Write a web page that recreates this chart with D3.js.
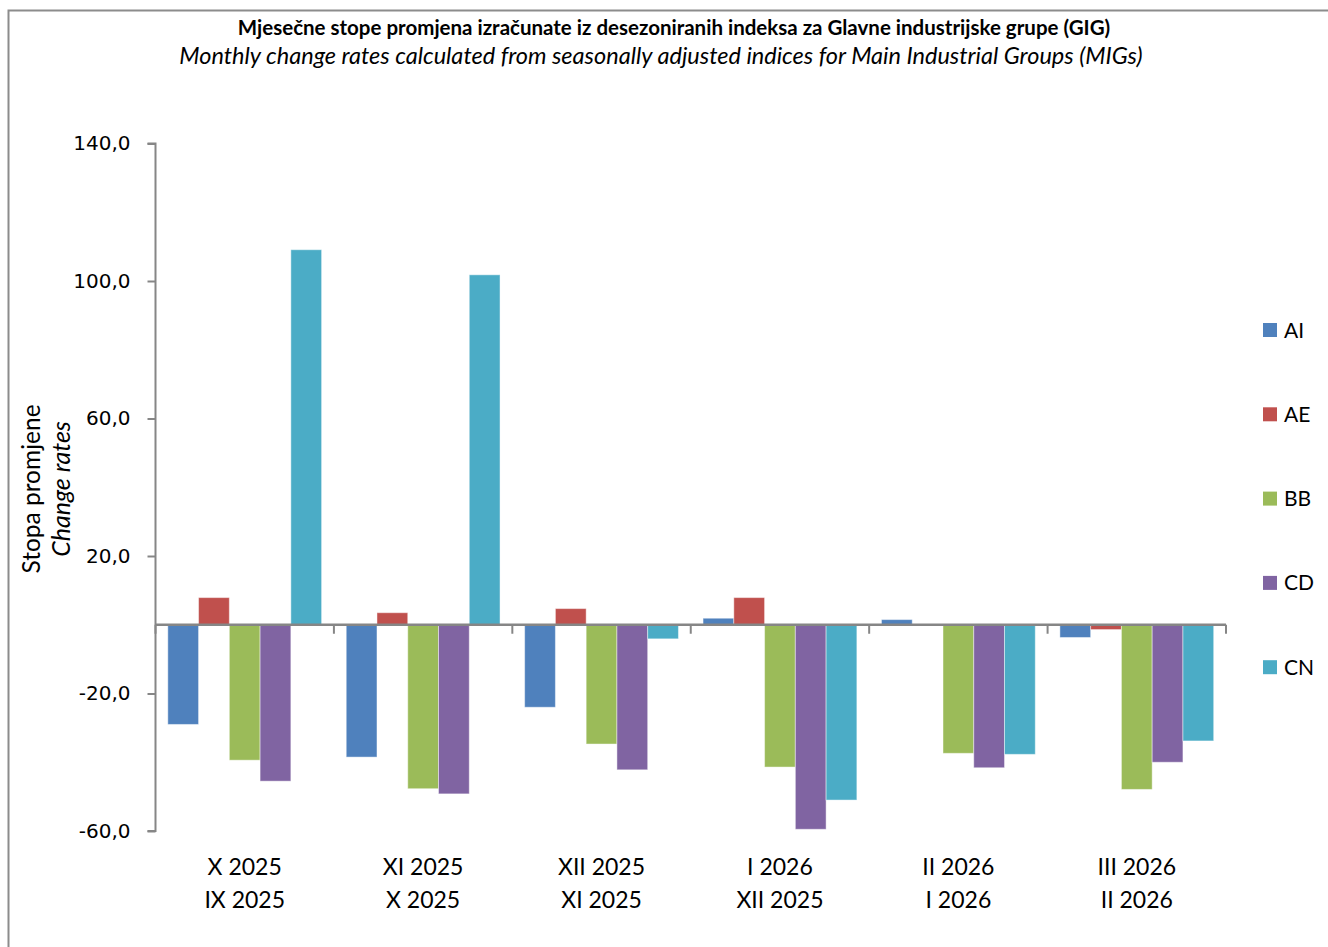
<!DOCTYPE html>
<html>
<head>
<meta charset="utf-8">
<script src="https://cdn.jsdelivr.net/npm/d3@7"></script>
<style>
  body { margin: 0; background: #fff; }
  svg { display: block; }
</style>
</head>
<body>
<div id="chart"></div>
<script>
// data
var periods = [
  ["X 2025", "IX 2025"],
  ["XI 2025", "X 2025"],
  ["XII 2025", "XI 2025"],
  ["I 2026", "XII 2025"],
  ["II 2026", "I 2026"],
  ["III 2026", "II 2026"]
];
var seriesNames = ["AI", "AE", "BB", "CD", "CN"];
var AI = [-29.0, -38.5, -24.0, 1.9, 1.5, -3.7];
var AE = [7.9, 3.5, 4.7, 7.9, 0.0, -1.4];
var BB = [-39.4, -47.7, -34.7, -41.4, -37.4, -47.9];
var CD = [-45.5, -49.2, -42.2, -59.5, -41.6, -40.0];
var CN = [109.1, 101.8, -4.1, -51.0, -37.7, -33.8];
var yTicks = [140, 100, 60, 20, -20, -60];
var colors = ["#4F81BD", "#C0504D", "#9BBB59", "#8064A2", "#4BACC6"];

var seriesValues = [AI, AE, BB, CD, CN];

var svgWidth = 1328, svgHeight = 947;
var margin = { left: 155.5, right: 102, top: 143.5, bottom: 116 };

var svg = d3.select("#chart").append("svg")
  .attr("width", svgWidth)
  .attr("height", svgHeight);

// outer frame
svg.append("rect")
  .attr("x", 8.5).attr("y", 10.5)
  .attr("width", 1340).attr("height", 960)
  .attr("fill", "none")
  .attr("stroke", "#8c8c8c")
  .attr("stroke-width", 2);

// titles
svg.append("text")
  .attr("x", 674).attr("y", 35)
  .attr("text-anchor", "middle")
  .style("font-family", "Lato, 'Open Sans', sans-serif")
  .style("font-weight", "bold")
  .style("font-size", "20.5px")
  .text("Mjesečne stope promjena izračunate iz desezoniranih indeksa za Glavne industrijske grupe (GIG)");
svg.append("text")
  .attr("x", 661).attr("y", 64)
  .attr("text-anchor", "middle")
  .style("font-family", "Lato, 'Open Sans', sans-serif")
  .style("font-style", "italic")
  .style("font-size", "23.5px")
  .text("Monthly change rates calculated from seasonally adjusted indices for Main Industrial Groups (MIGs)");

var x0 = d3.scaleBand()
  .domain(d3.range(periods.length))
  .range([margin.left, svgWidth - margin.right]);

var x1 = d3.scaleBand()
  .domain(seriesNames)
  .range([0, x0.bandwidth()])
  .paddingOuter(0.4);

var y = d3.scaleLinear()
  .domain([-60, 140])
  .range([svgHeight - margin.bottom, margin.top]);

// bars
seriesNames.forEach(function(name, si) {
  svg.append("g").selectAll("rect")
    .data(seriesValues[si])
    .enter()
    .append("rect")
    .attr("x", (d, i) => x0(i) + x1(name))
    .attr("y", d => y(Math.max(0, d)))
    .attr("width", x1.bandwidth())
    .attr("height", d => Math.abs(y(d) - y(0)))
    .attr("fill", colors[si])
    .attr("stroke", "rgba(255,255,255,0.45)")
    .attr("stroke-width", 1);
});

// y axis
var yAxis = svg.append("g")
  .attr("transform", `translate(${margin.left},0)`)
  .call(d3.axisLeft(y).tickValues(yTicks).tickSize(8).tickPadding(17)
    .tickFormat(d => d.toFixed(1).replace(".", ",")));
yAxis.selectAll("path, line").attr("stroke", "#868686").attr("stroke-width", 2);
yAxis.select(".domain").attr("d", `M-8,${y(140)}H0V${y(-60)}H-8`);
yAxis.selectAll("text")
  .style("font-family", "'DejaVu Sans', sans-serif")
  .style("font-size", "20px")
  .attr("fill", "#000");

// zero line with category ticks
var xAxis = svg.append("g")
  .attr("transform", `translate(0,${y(0)})`);
xAxis.append("line")
  .attr("x1", margin.left).attr("x2", svgWidth - margin.right)
  .attr("stroke", "#868686").attr("stroke-width", 2.5);
xAxis.selectAll(".tk")
  .data(d3.range(periods.length + 1))
  .enter().append("line")
  .attr("x1", i => margin.left + i * x0.step())
  .attr("x2", i => margin.left + i * x0.step())
  .attr("y1", 0).attr("y2", 9)
  .attr("stroke", "#868686").attr("stroke-width", 2);

// category labels
var catLabels = svg.append("g");
periods.forEach(function(p, i) {
  p.forEach(function(line, j) {
    catLabels.append("text")
      .attr("x", x0(i) + x0.bandwidth() / 2)
      .attr("y", 875 + j * 33)
      .attr("text-anchor", "middle")
      .style("font-family", "Lato, 'Open Sans', sans-serif")
      .style("font-size", "23px")
      .text(line);
  });
});

// y axis title
var yTitle = svg.append("g").attr("transform", "translate(0,489) rotate(-90)");
yTitle.append("text")
  .attr("x", 0).attr("y", 40)
  .attr("text-anchor", "middle")
  .style("font-family", "Lato, 'Open Sans', sans-serif")
  .style("font-size", "24.5px")
  .text("Stopa promjene");
yTitle.append("text")
  .attr("x", 0).attr("y", 70)
  .attr("text-anchor", "middle")
  .style("font-family", "Lato, 'Open Sans', sans-serif")
  .style("font-style", "italic")
  .style("font-size", "25px")
  .text("Change rates");

// legend
var legend = svg.append("g");
seriesNames.forEach(function(name, i) {
  var cy = 330 + i * 84.3;
  legend.append("rect")
    .attr("x", 1263).attr("y", cy - 7)
    .attr("width", 14).attr("height", 14)
    .attr("fill", colors[i]);
  legend.append("text")
    .attr("x", 1284).attr("y", cy + 7.5)
    .style("font-family", "Lato, 'Open Sans', sans-serif")
    .style("font-size", "21px")
    .text(name);
});
</script>
</body>
</html>
